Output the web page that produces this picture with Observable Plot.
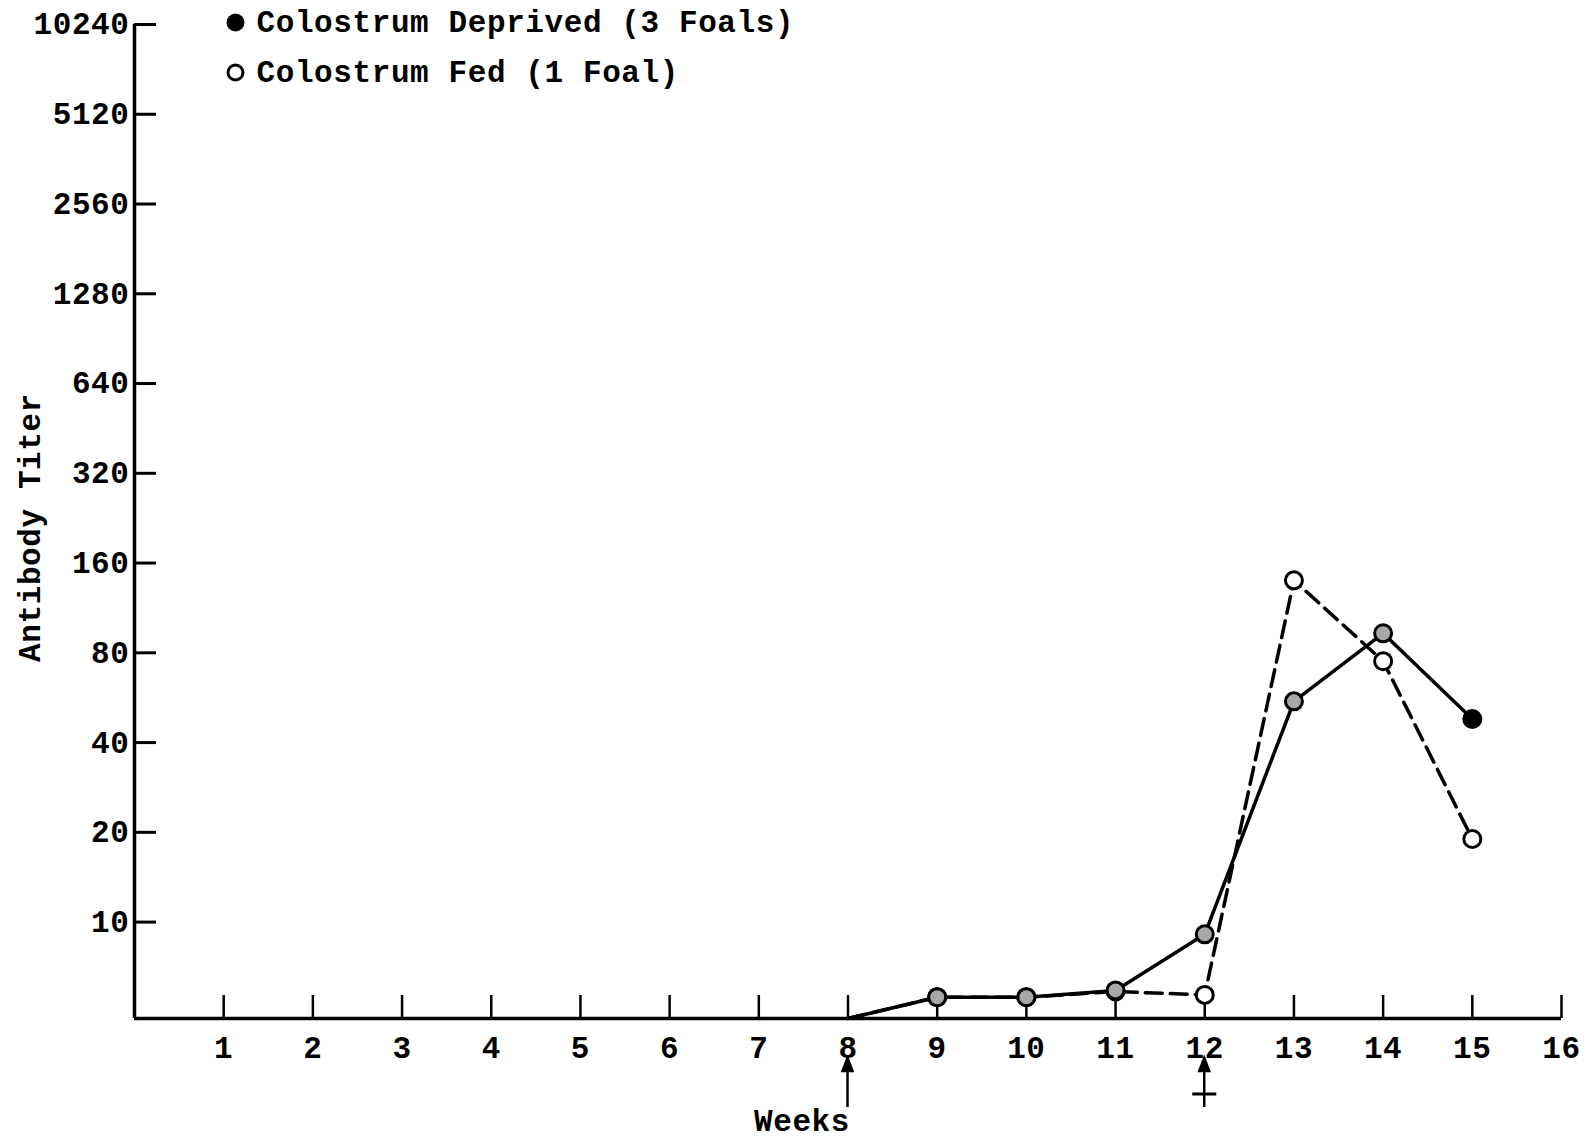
<!DOCTYPE html>
<html>
<head>
<meta charset="utf-8">
<script src="https://cdn.jsdelivr.net/npm/d3@7"></script>
<script src="https://cdn.jsdelivr.net/npm/@observablehq/plot@0.6"></script>
<style>
  html, body { margin: 0; padding: 0; background: #fff; }
  #chart svg { display: block; }
</style>
</head>
<body>
<div id="chart"></div>
<script>
// Weekly antibody titers of foals, colostrum deprived vs colostrum fed.
const weeks = [8, 9, 10, 11, 12, 13, 14, 15];
// Titer at the baseline (below the lowest dilution, drawn on the x axis).
const titerFloor = 4.75;
const deprivedTiter = [titerFloor, 5.6, 5.6, 5.9, 9.1, 55, 93, 48];
const fedTiter = [titerFloor, 5.6, 5.6, 5.85, 5.7, 140, 75, 19];

const yTicks = [10, 20, 40, 80, 160, 320, 640, 1280, 2560, 5120, 10240];
const xTicks = [1, 2, 3, 4, 5, 6, 7, 8, 9, 10, 11, 12, 13, 14, 15, 16];
const arrowWeeks = [8, 12];       // weeks flagged below the axis
const crossWeeks = [12];          // of those, the one with a cross bar
const legendLabels = ["Colostrum Deprived (3 Foals)", "Colostrum Fed (1 Foal)"];
const xTitle = "Weeks";
const yTitle = "Antibody Titer";

const rows = weeks.map((week, i) => ({week, deprived: deprivedTiter[i], fed: fedTiter[i]}));
const measured = rows.filter(d => d.week > weeks[0]);
const lastWeek = weeks[weeks.length - 1];

const font = '"Liberation Mono", "DejaVu Sans Mono", monospace';
const ink = "#000";

const chart = Plot.plot({
  width: 1589,
  height: 1140,
  marginLeft: 134,
  marginRight: 28,
  marginTop: 24,
  marginBottom: 122,
  style: {fontFamily: font, fontSize: "31px", fontWeight: "bold", letterSpacing: "0.6px", color: ink, background: "white", overflow: "visible"},
  x: {domain: [0, 16]},
  y: {type: "log", base: 2, domain: [titerFloor, 10240]},
  marks: [
    // axis lines
    Plot.ruleX([0], {stroke: ink, strokeWidth: 3.5}),
    Plot.ruleY([titerFloor], {stroke: ink, strokeWidth: 3.5}),
    // inward ticks with labels outside
    Plot.axisY({ticks: yTicks, tickSize: -22, tickPadding: 27, strokeWidth: 3, tickFormat: d => String(d), label: null}),
    Plot.axisX({ticks: xTicks, tickSize: -23, tickPadding: 40, strokeWidth: 2.5, tickFormat: d => String(d), label: null}),
    // axis titles
    Plot.text([yTitle], {text: d => d, frameAnchor: "left", textAnchor: "middle", rotate: -90, dx: -104, dy: 6, fill: ink}),
    Plot.text([arrowWeeks[0]], {x: d => d, text: () => xTitle, frameAnchor: "bottom", textAnchor: "end", dx: 2, dy: 112, fill: ink}),
    // series lines
    Plot.line(rows, {x: "week", y: "fed", stroke: ink, strokeWidth: 3.5, strokeDasharray: "17,8"}),
    Plot.line(rows, {x: "week", y: "deprived", stroke: ink, strokeWidth: 3.5}),
    // markers
    Plot.dot(measured, {x: "week", y: "fed", r: 8.5, fill: "white", stroke: ink, strokeWidth: 3}),
    Plot.dot(measured.filter(d => d.week < lastWeek), {x: "week", y: "deprived", r: 8.5, fill: "#a8a8a8", stroke: ink, strokeWidth: 3}),
    Plot.dot(measured.filter(d => d.week === lastWeek), {x: "week", y: "deprived", r: 10, fill: ink}),
    // legend
    Plot.dot([legendLabels[0]], {frameAnchor: "top-left", dx: 101, dy: -2, r: 9, fill: ink}),
    Plot.text([legendLabels[0]], {text: d => d, frameAnchor: "top-left", textAnchor: "start", lineAnchor: "middle", dx: 122, dy: -2, fill: ink}),
    Plot.dot([legendLabels[1]], {frameAnchor: "top-left", dx: 101, dy: 48, r: 7.5, fill: "white", stroke: ink, strokeWidth: 3}),
    Plot.text([legendLabels[1]], {text: d => d, frameAnchor: "top-left", textAnchor: "start", lineAnchor: "middle", dx: 122, dy: 48, fill: ink})
  ]
});

// Arrows under the weeks axis, placed with the chart's own x and y scales.
const xScale = chart.scale("x");
const yBase = chart.scale("y").apply(titerFloor);
const svg = d3.select(chart);
const g = svg.append("g").attr("stroke", ink).attr("fill", "none").attr("stroke-width", 2.5);
for (const w of arrowWeeks) {
  const x = xScale.apply(w);
  const tip = yBase + 40, bottom = yBase + 89;
  g.append("path").attr("d", `M${x},${bottom}V${tip}`);
  g.append("path").attr("d", `M${x - 5},${tip + 13}L${x},${tip}L${x + 5},${tip + 13}Z`).attr("fill", ink);
  if (crossWeeks.includes(w)) {
    g.append("path").attr("d", `M${x - 12},${yBase + 76}H${x + 12}`).attr("stroke-width", 3);
  }
}

document.getElementById("chart").append(chart);
</script>
</body>
</html>
